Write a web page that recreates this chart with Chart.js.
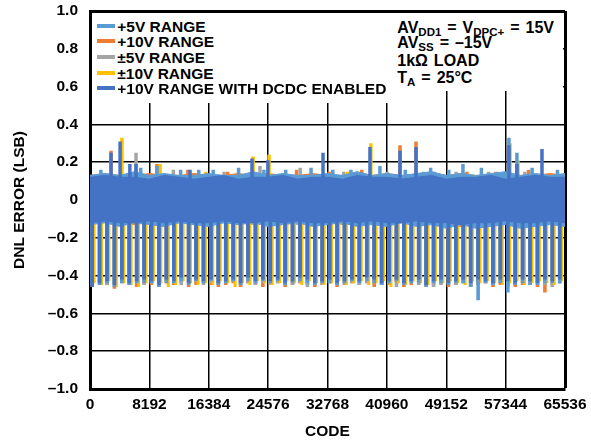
<!DOCTYPE html>
<html><head><meta charset="utf-8">
<script src="https://cdn.jsdelivr.net/npm/chart.js@4/dist/chart.umd.min.js"></script>
<style>
html,body{margin:0;padding:0;background:#fff;}
#wrap{position:relative;width:591px;height:442px;overflow:hidden;}
canvas{position:absolute;left:0;top:0;}
.box{position:absolute;background:#fff;}
.t{font-family:'Liberation Sans',Arial,sans-serif;font-weight:bold;font-size:15.5px;color:#000;white-space:nowrap;}
#legend{position:absolute;left:96.7px;top:18.6px;}
.lrow{position:relative;height:15.65px;line-height:15.65px;width:290px;}
.sw{position:absolute;left:0;top:5px;width:18px;height:4px;}
.lrow .t{position:absolute;left:20.6px;top:0;line-height:15.65px;}
.note{position:absolute;left:397.3px;line-height:16px;font-size:16px;word-spacing:1.5px;}
.sub{font-size:11.5px;position:relative;top:3.3px;word-spacing:0;}
</style></head><body>
<div id="wrap">
<canvas id="c" width="591" height="442"></canvas>
<div class="box" style="left:92px;top:13px;width:300px;height:90px"></div>
<div class="box" style="left:392px;top:13px;width:171px;height:78px"></div>
<div id="legend"></div>
<div class="note t" style="top:20.1px">AV<span class="sub">DD1</span> = V<span class="sub">DPC+</span> = 15V</div>
<div class="note t" style="top:35.2px">AV<span class="sub">SS</span> = –15V</div>
<div class="note t" style="top:52.6px">1kΩ LOAD</div>
<div class="note t" style="top:70.1px">T<span class="sub">A</span> = 25°C</div>
</div>
<script>
// ---------- series ----------
const seriesNames = ['+5V RANGE','+10V RANGE','±5V RANGE','±10V RANGE','+10V RANGE WITH DCDC ENABLED'];
const seriesColors = ['#5B9BD5','#ED7D31','#A5A5A5','#FFC000','#4472C4'];
const seriesOrder = [1,4,3,2,0];

// ---------- axes ----------
const xTickValues = [0,8192,16384,24576,32768,40960,49152,57344,65536];
const xTickLabels = ['0','8192','16384','24576','32768','40960','49152','57344','65536'];
const yTickValues = [-1,-0.8,-0.6,-0.4,-0.2,0,0.2,0.4,0.6,0.8,1];
const yTickLabels = ['–1.0','–0.8','–0.6','–0.4','–0.2','0','0.2','0.4','0.6','0.8','1.0'];

// ---------- dense noise band envelope (read every 2048 codes) ----------
const bandCodes = [0,2048,4096,6144,8192,10240,12288,14336,16384,18432,20480,22528,24576,26624,28672,30720,32768,34816,36864,38912,40960,43008,45056,47104,49152,51200,53248,55296,57344,59392,61440,63488,65536];
const bandHi_p5 = [0.13,0.14,0.13,0.15,0.13,0.14,0.13,0.13,0.14,0.13,0.13,0.15,0.13,0.14,0.13,0.13,0.14,0.13,0.15,0.13,0.14,0.13,0.14,0.15,0.13,0.14,0.13,0.14,0.15,0.13,0.14,0.13,0.14];
const bandLo_p5 = [-0.13,-0.12,-0.14,-0.12,-0.13,-0.14,-0.12,-0.13,-0.14,-0.12,-0.13,-0.12,-0.14,-0.13,-0.12,-0.14,-0.13,-0.12,-0.14,-0.13,-0.14,-0.12,-0.14,-0.13,-0.15,-0.13,-0.15,-0.14,-0.13,-0.15,-0.14,-0.13,-0.14];
const bandHi_p10 = [0.13,0.14,0.13,0.13,0.14,0.13,0.13,0.14,0.13,0.13,0.14,0.13,0.14,0.13,0.13,0.14,0.13,0.13,0.14,0.13,0.14,0.13,0.13,0.14,0.13,0.14,0.13,0.13,0.14,0.13,0.13,0.14,0.13];
const bandLo_p10 = [-0.13,-0.12,-0.13,-0.13,-0.12,-0.13,-0.12,-0.13,-0.13,-0.12,-0.13,-0.12,-0.13,-0.13,-0.12,-0.13,-0.12,-0.13,-0.13,-0.12,-0.13,-0.12,-0.13,-0.13,-0.13,-0.14,-0.13,-0.13,-0.12,-0.13,-0.13,-0.12,-0.13];
const bandHi_pm5 = [0.13,0.13,0.12,0.13,0.13,0.12,0.13,0.13,0.12,0.13,0.13,0.12,0.13,0.13,0.12,0.13,0.13,0.12,0.13,0.13,0.12,0.13,0.13,0.12,0.13,0.13,0.12,0.13,0.13,0.12,0.13,0.13,0.12];
const bandLo_pm5 = [-0.12,-0.12,-0.13,-0.12,-0.12,-0.13,-0.12,-0.12,-0.13,-0.12,-0.12,-0.13,-0.12,-0.12,-0.13,-0.12,-0.12,-0.13,-0.12,-0.12,-0.13,-0.12,-0.12,-0.13,-0.12,-0.12,-0.13,-0.12,-0.12,-0.13,-0.12,-0.12,-0.13];
const bandHi_pm10 = [0.13,0.12,0.13,0.13,0.12,0.13,0.12,0.13,0.12,0.13,0.12,0.13,0.13,0.12,0.13,0.12,0.13,0.12,0.12,0.13,0.12,0.13,0.12,0.13,0.12,0.12,0.13,0.12,0.13,0.12,0.12,0.13,0.12];
const bandLo_pm10 = [-0.12,-0.11,-0.12,-0.12,-0.11,-0.12,-0.12,-0.11,-0.12,-0.12,-0.11,-0.12,-0.12,-0.11,-0.12,-0.12,-0.11,-0.12,-0.12,-0.11,-0.12,-0.12,-0.11,-0.12,-0.12,-0.11,-0.12,-0.12,-0.11,-0.12,-0.12,-0.11,-0.12];
const bandHi_dc = [0.12,0.13,0.12,0.12,0.11,0.13,0.12,0.11,0.12,0.13,0.11,0.12,0.12,0.13,0.11,0.12,0.12,0.11,0.13,0.12,0.12,0.11,0.12,0.13,0.11,0.12,0.12,0.13,0.11,0.12,0.13,0.12,0.12];
const bandLo_dc = [-0.12,-0.11,-0.12,-0.12,-0.11,-0.12,-0.11,-0.12,-0.12,-0.11,-0.12,-0.12,-0.11,-0.12,-0.11,-0.12,-0.12,-0.11,-0.12,-0.11,-0.12,-0.12,-0.11,-0.12,-0.12,-0.13,-0.12,-0.12,-0.11,-0.12,-0.12,-0.11,-0.12];

// ---------- major-carry DNL spikes (one per 1024 codes) ----------
const spikeCodes = [300,1324,2348,3372,4396,5420,6444,7468,8492,9516,10540,11564,12588,13612,14636,15660,16684,17708,18732,19756,20780,21804,22828,23852,24876,25900,26924,27948,28972,29996,31020,32044,33068,34092,35116,36140,37164,38188,39212,40236,41260,42284,43308,44332,45356,46380,47404,48428,49452,50476,51500,52524,53548,54572,55596,56620,57644,58668,59692,60716,61740,62764,63788,64812];
const spikeCodes_pm10 = [560,1584,2608,3632,4656,5680,6704,7728,8752,9776,10800,11824,12848,13872,14896,15920,16944,17968,18992,20016,21040,22064,23088,24112,25136,26160,27184,28208,29232,30256,31280,32304,33328,34352,35376,36400,37424,38448,39472,40496,41520,42544,43568,44592,45616,46640,47664,48688,49712,50736,51760,52784,53808,54832,55856,56880,57904,58928,59952,60976,62000,63024,64048,65072];
const spikeLow_p5 = [-0.45,-0.45,-0.44,-0.46,-0.44,-0.45,-0.44,-0.44,-0.44,-0.46,-0.44,-0.44,-0.43,-0.45,-0.43,-0.44,-0.43,-0.45,-0.44,-0.43,-0.45,-0.43,-0.44,-0.43,-0.44,-0.43,-0.45,-0.44,-0.43,-0.44,-0.45,-0.44,-0.44,-0.45,-0.44,-0.43,-0.44,-0.43,-0.44,-0.45,-0.44,-0.43,-0.45,-0.44,-0.44,-0.46,-0.44,-0.44,-0.45,-0.44,-0.44,-0.46,-0.53,-0.44,-0.45,-0.44,-0.49,-0.45,-0.44,-0.45,-0.45,-0.44,-0.44,-0.44];
const spikeLow_p10 = [-0.46,-0.45,-0.45,-0.47,-0.44,-0.45,-0.46,-0.44,-0.45,-0.46,-0.44,-0.45,-0.44,-0.46,-0.45,-0.44,-0.45,-0.46,-0.45,-0.44,-0.46,-0.44,-0.45,-0.46,-0.45,-0.44,-0.46,-0.45,-0.44,-0.45,-0.46,-0.45,-0.44,-0.46,-0.45,-0.44,-0.45,-0.44,-0.46,-0.45,-0.45,-0.44,-0.46,-0.45,-0.44,-0.46,-0.45,-0.44,-0.46,-0.45,-0.44,-0.46,-0.45,-0.44,-0.46,-0.45,-0.45,-0.46,-0.45,-0.44,-0.46,-0.49,-0.45,-0.44];
const spikeLow_pm5 = [-0.45,-0.44,-0.45,-0.44,-0.43,-0.45,-0.44,-0.45,-0.44,-0.45,-0.43,-0.44,-0.45,-0.44,-0.43,-0.45,-0.44,-0.45,-0.44,-0.43,-0.45,-0.44,-0.45,-0.44,-0.45,-0.44,-0.43,-0.45,-0.44,-0.46,-0.44,-0.45,-0.44,-0.43,-0.45,-0.44,-0.45,-0.44,-0.43,-0.45,-0.44,-0.46,-0.45,-0.44,-0.45,-0.44,-0.46,-0.45,-0.44,-0.45,-0.44,-0.46,-0.45,-0.44,-0.45,-0.44,-0.46,-0.45,-0.44,-0.45,-0.44,-0.45,-0.46,-0.44];
const spikeLow_pm10 = [-0.44,-0.45,-0.43,-0.46,-0.44,-0.45,-0.46,-0.44,-0.43,-0.44,-0.46,-0.45,-0.43,-0.44,-0.45,-0.44,-0.45,-0.43,-0.44,-0.46,-0.44,-0.45,-0.43,-0.44,-0.45,-0.44,-0.43,-0.44,-0.45,-0.43,-0.44,-0.45,-0.44,-0.43,-0.45,-0.44,-0.43,-0.45,-0.44,-0.43,-0.46,-0.44,-0.45,-0.43,-0.44,-0.45,-0.43,-0.44,-0.43,-0.44,-0.45,-0.43,-0.44,-0.43,-0.44,-0.45,-0.44,-0.43,-0.45,-0.44,-0.43,-0.44,-0.45,-0.43];
const spikeLow_dc = [-0.46,-0.44,-0.43,-0.45,-0.42,-0.44,-0.43,-0.42,-0.43,-0.45,-0.42,-0.43,-0.41,-0.44,-0.42,-0.43,-0.42,-0.44,-0.43,-0.42,-0.44,-0.41,-0.43,-0.42,-0.43,-0.42,-0.44,-0.43,-0.41,-0.42,-0.44,-0.43,-0.42,-0.44,-0.43,-0.42,-0.43,-0.41,-0.42,-0.44,-0.43,-0.42,-0.44,-0.43,-0.42,-0.45,-0.43,-0.42,-0.44,-0.43,-0.42,-0.44,-0.42,-0.43,-0.44,-0.42,-0.43,-0.44,-0.42,-0.43,-0.44,-0.42,-0.43,-0.42];

// ---------- upward DNL peaks ----------
const peakCodes_p5 = [1500,7000,9244,12500,15000,17000,20500,24000,27000,30500,33500,36000,40000,43500,47000,49500,51460,54000,57800,58900,61000,64500];
const peakVal_p5 = [0.16,0.17,0.18,0.16,0.16,0.16,0.17,0.16,0.16,0.17,0.16,0.16,0.18,0.16,0.17,0.16,0.19,0.17,0.33,0.25,0.17,0.16];
const peakCodes_p10 = [2900,9244,13500,19000,28500,33000,37500,42770,44980,47500,52000,56000,60500];
const peakVal_p10 = [0.26,0.19,0.16,0.15,0.16,0.15,0.16,0.29,0.31,0.15,0.15,0.15,0.16];
const peakCodes_pm5 = [6350,11500,18500,23450,29000,35000,41000,46000,50500,55000,60000];
const peakVal_pm5 = [0.25,0.16,0.15,0.18,0.17,0.15,0.15,0.15,0.15,0.15,0.15];
const peakCodes_pm10 = [4400,9660,16000,22500,24700,35500,38750,57950,59050];
const peakVal_pm10 = [0.33,0.19,0.15,0.23,0.24,0.15,0.30,0.30,0.21];
const peakCodes_dc = [2900,4150,5500,6350,13800,22350,24550,32150,38630,42770,44980,57800,58900,62360];
const peakVal_dc = [0.25,0.31,0.19,0.19,0.16,0.22,0.21,0.25,0.28,0.26,0.28,0.29,0.19,0.27];

// ---------- assemble ----------
const seriesData = [
  {hi:bandHi_p5, lo:bandLo_p5, sc:spikeCodes, sl:spikeLow_p5, pc:peakCodes_p5, pv:peakVal_p5},
  {hi:bandHi_p10, lo:bandLo_p10, sc:spikeCodes, sl:spikeLow_p10, pc:peakCodes_p10, pv:peakVal_p10},
  {hi:bandHi_pm5, lo:bandLo_pm5, sc:spikeCodes, sl:spikeLow_pm5, pc:peakCodes_pm5, pv:peakVal_pm5},
  {hi:bandHi_pm10, lo:bandLo_pm10, sc:spikeCodes_pm10, sl:spikeLow_pm10, pc:peakCodes_pm10, pv:peakVal_pm10},
  {hi:bandHi_dc, lo:bandLo_dc, sc:spikeCodes, sl:spikeLow_dc, pc:peakCodes_dc, pv:peakVal_dc}
];
function pts(xs, ys){ return xs.map((x,i)=>({x:x, y:ys[i]})); }
function segs(xs, ends, base){ const d=[]; xs.forEach((x,i)=>{ d.push({x:x,y:base},{x:x,y:ends[i]},{x:x,y:null}); }); return d; }

const datasets = [];
seriesData.forEach((s, k) => {
  const col = seriesColors[k], ord = seriesOrder[k];
  const base = datasets.length;
  datasets.push({label:seriesNames[k], data:pts(bandCodes, s.hi), borderColor:col, backgroundColor:col, borderWidth:1, pointRadius:0, fill:{target: base+1}, order:ord});
  datasets.push({label:seriesNames[k]+' lo', data:pts(bandCodes, s.lo), borderColor:col, borderWidth:1, pointRadius:0, fill:false, order:ord});
  datasets.push({label:seriesNames[k]+' spikes', data:segs(s.sc, s.sl, -0.08), borderColor:col, borderWidth:k===3?3:3.6, borderCapStyle:'butt', pointRadius:0, spanGaps:false, fill:false, order:ord});
  datasets.push({label:seriesNames[k]+' peaks', data:segs(s.pc, s.pv, 0.0), borderColor:col, borderWidth:3.5, borderCapStyle:'butt', pointRadius:0, spanGaps:false, fill:false, order:ord});
});

// ---------- legend (HTML) ----------
const legendEl = document.getElementById('legend');
seriesNames.forEach((n,i)=>{
  const row = document.createElement('div'); row.className='lrow';
  const sw = document.createElement('span'); sw.className='sw'; sw.style.background = seriesColors[i];
  const tx = document.createElement('span'); tx.className='t'; tx.textContent = n;
  row.appendChild(sw); row.appendChild(tx); legendEl.appendChild(row);
});

Chart.defaults.font.family = "'Liberation Sans', Arial, sans-serif";
Chart.defaults.color = '#000';
const FONT = {size:15.5, weight:'bold', lineHeight:1.2};

new Chart(document.getElementById('c'), {
  type:'line',
  data:{datasets},
  options:{
    responsive:false, animation:false, devicePixelRatio:1,
    layout:{autoPadding:false, padding:{left:0,right:26,top:11,bottom:0}},
    plugins:{legend:{display:false}, tooltip:{enabled:false}},
    elements:{line:{tension:0}},
    scales:{
      x:{type:'linear', min:0, max:65536, offset:false,
        afterBuildTicks:s=>{ s.ticks = xTickValues.map(v=>({value:v})); },
        afterFit:s=>{ s.height = 53; s.paddingLeft = 0; s.paddingRight = 0; },
        ticks:{autoSkip:false, maxRotation:0, padding:6, color:'#000', font:FONT, callback:(v,i)=>xTickLabels[i]},
        grid:{color:'#000', lineWidth:c=> (c.tick && c.tick.value===65536) ? 3 : 1.5, drawTicks:false},
        border:{display:true, color:'#000', width:3},
        title:{display:true, text:'CODE', color:'#000', font:FONT, padding:{top:0,bottom:1}}
      },
      y:{type:'linear', min:-1, max:1,
        afterBuildTicks:s=>{ s.ticks = yTickValues.map(v=>({value:v})); },
        afterFit:s=>{ s.width = 90; s.paddingTop = 0; s.paddingBottom = 0; },
        ticks:{autoSkip:false, padding:12, color:'#000', font:FONT, callback:(v,i)=>yTickLabels[i]},
        grid:{color:'#000', lineWidth:c=> (c.tick && c.tick.value===1) ? 3 : 1.5, drawTicks:false},
        border:{display:true, color:'#000', width:3},
        title:{display:true, text:'DNL ERROR (LSB)', color:'#000', font:FONT, padding:{top:10,bottom:0}}
      }
    }
  }
});
</script>
</body></html>
